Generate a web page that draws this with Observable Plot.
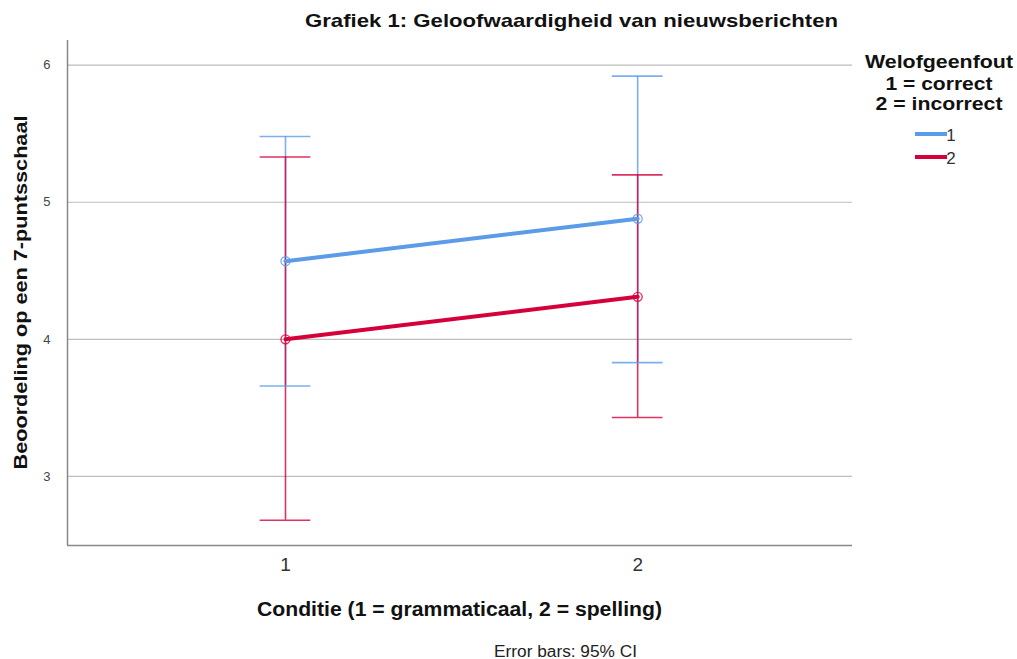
<!DOCTYPE html>
<html>
<head>
<meta charset="utf-8">
<script src="https://cdn.jsdelivr.net/npm/d3@7"></script>
<script src="https://cdn.jsdelivr.net/npm/@observablehq/plot@0.6"></script>
<style>
  html, body { margin: 0; padding: 0; background: #fff; }
  #chart { position: relative; width: 1017px; height: 659px; }
</style>
</head>
<body>
<div id="chart"></div>
<script>
// ---- data ----
const conditions = [1, 2];
const groups = ["1", "2"];
const groupColors = ["#5b9be8", "#d5003b"];
const mean1 = [4.57, 4.88];
const lower1 = [3.66, 3.83];
const upper1 = [5.48, 5.92];
const mean2 = [4.00, 4.31];
const lower2 = [2.68, 3.43];
const upper2 = [5.33, 5.20];
const yTicks = [3, 4, 5, 6];
const xTicks = [1, 2];

const title = "Grafiek 1: Geloofwaardigheid van nieuwsberichten";
const xLabel = "Conditie (1 = grammaticaal, 2 = spelling)";
const yLabel = "Beoordeling op een 7-puntsschaal";
const legendTitle = ["Welofgeenfout", "1 = correct", "2 = incorrect"];
const caption = "Error bars: 95% CI";

const means = [mean1, mean2], lowers = [lower1, lower2], uppers = [upper1, upper2];
const rows = [];
groups.forEach((g, gi) => conditions.forEach((c, ci) => rows.push({
  group: g, cond: c, mean: means[gi][ci], lo: lowers[gi][ci], hi: uppers[gi][ci]
})));

const font = "'Liberation Sans', Arial, sans-serif";
const W = 1017, H = 659;
const mL = 67, mR = W - 852, mT = 40, mB = H - 545;
const xDomain = [0.381, 2.61];
const yDomain = [2.496, 6.18];
const capHalf = 0.072;

const color = { domain: groups, range: groupColors };

const plot = Plot.plot({
  width: W, height: H,
  marginLeft: mL, marginRight: mR, marginTop: mT, marginBottom: mB,
  style: { fontFamily: font, background: "#fff" },
  x: { domain: xDomain, ticks: xTicks, label: null },
  y: { domain: yDomain, ticks: yTicks, label: null },
  color,
  marks: [
    Plot.gridY(yTicks, { stroke: "#bdbdbd", strokeOpacity: 1, strokeWidth: 1.2 }),
    Plot.axisY(yTicks, { tickSize: 0, tickPadding: 17, fontSize: 13, fill: "#444", tickFormat: d3.format("d") }),
    Plot.axisX(xTicks, { tickSize: 0, tickPadding: 12, fontSize: 19, fill: "#333", tickFormat: d3.format("d") }),
    Plot.ruleX([xDomain[0]], { stroke: "#888", strokeWidth: 1.5 }),
    Plot.ruleY([yDomain[0]], { stroke: "#888", strokeWidth: 1.5 }),
    // error bars
    Plot.ruleX(rows, { x: "cond", y1: "lo", y2: "hi", stroke: "group", strokeWidth: 1.6, strokeOpacity: 0.8 }),
    Plot.ruleY(rows, { y: "hi", x1: d => d.cond - capHalf, x2: d => d.cond + capHalf, stroke: "group", strokeWidth: 1.6, strokeOpacity: 0.8 }),
    Plot.ruleY(rows, { y: "lo", x1: d => d.cond - capHalf, x2: d => d.cond + capHalf, stroke: "group", strokeWidth: 1.6, strokeOpacity: 0.8 }),
    // lines
    Plot.line(rows, { x: "cond", y: "mean", z: "group", stroke: "group", strokeWidth: 4 }),
    Plot.dot(rows, { x: "cond", y: "mean", stroke: "group", r: 4.5, strokeWidth: 1.4, strokeOpacity: 0.8, fill: "none" })
  ]
});

document.getElementById("chart").appendChild(plot);

// extra texts and legend
const svg = d3.select(plot);
function addText(sel, txt, opts) {
  const t = sel.append("text")
    .attr("text-anchor", "middle")
    .attr("font-family", font)
    .attr("font-size", opts.size)
    .attr("font-weight", opts.bold ? "bold" : "normal")
    .attr("fill", opts.fill || "#111")
    .text(txt);
  if (opts.transform) t.attr("transform", opts.transform);
  else t.attr("x", opts.x).attr("y", opts.y);
  if (opts.len) t.attr("textLength", opts.len).attr("lengthAdjust", "spacingAndGlyphs");
  return t;
}

addText(svg, title, { x: 571.5, y: 27, size: 18.5, bold: true, len: 533 });
addText(svg, xLabel, { x: (mL + (W - mR)) / 2, y: 616, size: 19.5, bold: true, len: 405 });
addText(svg, yLabel, { transform: `translate(27,${(mT + (H - mB)) / 2}) rotate(-90)`, size: 19, bold: true, len: 354 });
addText(svg, caption, { x: 565.5, y: 657, size: 16, fill: "#222", len: 143 });

const legendLens = [148, 107, 127];
const legendY = [68, 90, 110];
legendTitle.forEach((t, i) => addText(svg, t, { x: 939, y: legendY[i], size: 18.5, bold: true, len: legendLens[i] }));

const entries = svg.append("g").attr("font-family", font)
  .selectAll("g.e").data(groups).join("g").attr("class", "e")
  .attr("transform", (d, i) => `translate(0,${134 + i * 23})`);
entries.append("line").attr("x1", 915).attr("x2", 947).attr("y1", 0).attr("y2", 0)
  .attr("stroke", (d, i) => groupColors[i]).attr("stroke-width", 4);
entries.append("text").attr("x", 951).attr("y", 7).attr("font-size", 17).attr("fill", "#333")
  .text(d => d);
</script>
</body>
</html>
